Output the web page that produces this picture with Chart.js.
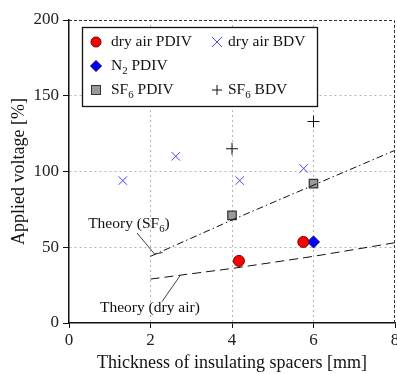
<!DOCTYPE html>
<html>
<head>
<meta charset="UTF-8">
<title>Applied voltage vs spacer thickness</title>
<style>
  body { margin: 0; background: #fff; }
  #wrap { width: 397px; height: 374px; }
</style>
<script src="https://cdn.jsdelivr.net/npm/chart.js"></script>
</head>
<body>
<div id="wrap"><canvas id="c" width="397" height="374"></canvas></div>
<script>
// measured points [thickness mm, applied voltage %]
const dryAirPDIV = [[4.17, 41], [5.75, 53.5]];
const n2PDIV = [[6.0, 53.5]];
const sf6PDIV = [[4.0, 71], [6.0, 92]];
const dryAirBDV = [[1.32, 94], [2.62, 110], [4.19, 94], [5.76, 102]];
const sf6BDV = [[4.0, 115], [6.0, 133]];
// theory curves
const theorySF6 = [[2, 44], [4, 68], [6, 91], [8, 114]];
const theoryDryAir = [[2, 29], [4, 36], [6, 44], [8, 53]];
const xTicks = [0, 2, 4, 6, 8];
const yTicks = [0, 50, 100, 150, 200];

const FONT = '"Liberation Serif", "DejaVu Serif", serif';
const pts = a => a.map(p => ({ x: p[0], y: p[1] }));

function drawParts(ctx, parts, x, y, size) {
  // parts: [text, isSub]
  parts.forEach(([t, sub]) => {
    ctx.font = (sub ? size * 0.7 : size) + 'px ' + FONT;
    ctx.fillText(t, x, sub ? y + size * 0.3 : y);
    x += ctx.measureText(t).width;
  });
}

const extras = {
  id: 'extras',
  afterDatasetsDraw(chart) {
    const { ctx, chartArea: a, scales: { x, y } } = chart;
    ctx.save();
    // dashed top and right frame
    ctx.strokeStyle = '#333';
    ctx.lineWidth = 1;
    ctx.setLineDash([3, 2]);
    ctx.beginPath();
    ctx.moveTo(a.left, a.top + 0.5);
    ctx.lineTo(a.right - 0.5, a.top + 0.5);
    ctx.lineTo(a.right - 0.5, a.bottom);
    ctx.stroke();
    ctx.setLineDash([]);

    // theory labels with leader lines
    ctx.fillStyle = '#111';
    ctx.textBaseline = 'middle';
    drawParts(ctx, [['Theory (SF', 0], ['6', 1], [')', 0]], x.getPixelForValue(0.47), y.getPixelForValue(65.3), 15.5);
    drawParts(ctx, [['Theory (dry air)', 0]], x.getPixelForValue(0.76), y.getPixelForValue(10), 15.5);
    ctx.strokeStyle = '#111';
    ctx.lineWidth = 0.8;
    ctx.beginPath();
    ctx.moveTo(x.getPixelForValue(1.67), y.getPixelForValue(59.4));
    ctx.lineTo(x.getPixelForValue(2.1), y.getPixelForValue(45.5));
    ctx.lineTo(x.getPixelForValue(2.3), y.getPixelForValue(46.5));
    ctx.moveTo(x.getPixelForValue(2.28), y.getPixelForValue(14));
    ctx.lineTo(x.getPixelForValue(2.72), y.getPixelForValue(31));
    ctx.stroke();

    // legend box
    const bx = 82, by = 27, bw = 235, bh = 79;
    ctx.fillStyle = '#fff';
    ctx.fillRect(bx, by, bw, bh);
    ctx.strokeStyle = '#111';
    ctx.lineWidth = 1.3;
    ctx.strokeRect(bx + 0.5, by + 0.5, bw, bh);

    const rows = [42, 66, 90];
    // markers
    ctx.lineWidth = 1;
    ctx.fillStyle = '#f00'; ctx.strokeStyle = '#600';
    ctx.beginPath(); ctx.arc(96, rows[0], 5, 0, Math.PI * 2); ctx.fill(); ctx.stroke();
    ctx.fillStyle = '#00f'; ctx.strokeStyle = '#006';
    ctx.beginPath();
    ctx.moveTo(96, rows[1] - 5.5); ctx.lineTo(101.5, rows[1]); ctx.lineTo(96, rows[1] + 5.5); ctx.lineTo(90.5, rows[1]);
    ctx.closePath(); ctx.fill(); ctx.stroke();
    ctx.fillStyle = '#999'; ctx.strokeStyle = '#333';
    ctx.fillRect(91.5, rows[2] - 4.5, 9, 9); ctx.strokeRect(91.5, rows[2] - 4.5, 9, 9);
    ctx.strokeStyle = '#44f';
    ctx.beginPath();
    ctx.moveTo(212, rows[0] - 5); ctx.lineTo(222, rows[0] + 5);
    ctx.moveTo(222, rows[0] - 5); ctx.lineTo(212, rows[0] + 5);
    ctx.stroke();
    ctx.strokeStyle = '#111';
    ctx.beginPath();
    ctx.moveTo(212, rows[2]); ctx.lineTo(222, rows[2]);
    ctx.moveTo(217, rows[2] - 5); ctx.lineTo(217, rows[2] + 5);
    ctx.stroke();

    ctx.fillStyle = '#111';
    drawParts(ctx, [['dry air PDIV', 0]], 111, rows[0], 15.5);
    drawParts(ctx, [['N', 0], ['2', 1], [' PDIV', 0]], 111, rows[1], 15.5);
    drawParts(ctx, [['SF', 0], ['6', 1], [' PDIV', 0]], 111, rows[2], 15.5);
    drawParts(ctx, [['dry air BDV', 0]], 228, rows[0], 15.5);
    drawParts(ctx, [['SF', 0], ['6', 1], [' BDV', 0]], 228, rows[2], 15.5);
    ctx.restore();
  }
};

new Chart(document.getElementById('c'), {
  type: 'scatter',
  data: {
    datasets: [
      { type: 'line', data: pts(theorySF6), borderColor: '#111', borderWidth: 1, borderDash: [7, 3, 1.5, 3], pointRadius: 0, fill: false },
      { type: 'line', data: pts(theoryDryAir), borderColor: '#111', borderWidth: 1, borderDash: [9, 5], pointRadius: 0, fill: false },
      { data: pts(dryAirPDIV), pointStyle: 'circle', pointRadius: 5.5, backgroundColor: '#f00', borderColor: '#700', borderWidth: 1 },
      { data: pts(n2PDIV), pointStyle: 'rectRot', pointRadius: 6, backgroundColor: '#00f', borderColor: '#006', borderWidth: 1 },
      { data: pts(sf6PDIV), pointStyle: 'rect', pointRadius: 6, backgroundColor: '#999', borderColor: '#333', borderWidth: 1.2 },
      { data: pts(dryAirBDV), pointStyle: 'crossRot', pointRadius: 6, borderColor: '#44f', borderWidth: 1 },
      { data: pts(sf6BDV), pointStyle: 'cross', pointRadius: 6, borderColor: '#111', borderWidth: 1 }
    ]
  },
  options: {
    responsive: false,
    animation: false,
    events: [],
    layout: { autoPadding: false, padding: { top: 20, right: 2, left: 0, bottom: 0 } },
    plugins: { legend: { display: false }, tooltip: { enabled: false } },
    scales: {
      x: {
        type: 'linear', min: 0, max: 8,
        afterBuildTicks: s => { s.ticks = xTicks.map(v => ({ value: v })); },
        afterFit: s => { s.height = 51; s.paddingRight = 0; },
        grid: {
          color: c => (c.tick.value > 0 && c.tick.value < 8) ? '#b5b5b5' : 'rgba(0,0,0,0)',
          tickLength: 5, tickColor: '#111', tickBorderDash: []
        },
        border: { display: true, color: '#111', width: 1.5, dash: [2, 3] },
        ticks: { color: '#222', font: { family: FONT, size: 17 }, padding: 2 },
        title: { display: true, text: 'Thickness of insulating spacers [mm]', color: '#111', font: { family: FONT, size: 18 }, padding: { top: 0, bottom: 0 } }
      },
      y: {
        type: 'linear', min: 0, max: 200,
        afterBuildTicks: s => { s.ticks = yTicks.map(v => ({ value: v })); },
        afterFit: s => { s.width = 69; },
        grid: {
          color: c => (c.tick.value > 0 && c.tick.value < 200) ? '#b5b5b5' : 'rgba(0,0,0,0)',
          tickLength: 6, tickColor: '#111', tickBorderDash: []
        },
        border: { display: true, color: '#111', width: 1.5, dash: [2, 3] },
        ticks: { color: '#222', font: { family: FONT, size: 17 }, padding: 4 },
        title: { display: true, text: 'Applied voltage [%]', color: '#111', font: { family: FONT, size: 18 }, padding: { top: 8, bottom: 0 } }
      }
    }
  },
  plugins: [extras]
});
</script>
</body>
</html>
